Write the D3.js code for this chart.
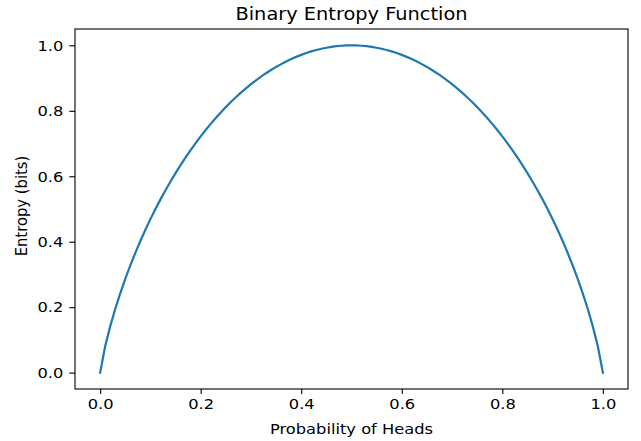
<!DOCTYPE html>
<html>
<head>
<meta charset="utf-8">
<script src="https://cdn.jsdelivr.net/npm/d3@7"></script>
<style>
  body { margin: 0; background: #fff; }
  text { font-family: "DejaVu Sans", sans-serif; fill: #000; }
</style>
</head>
<body>
<div id="chart"></div>
<script>
// probability of heads (x) and entropy in bits (y)
const probs = [
  0.00, 0.01, 0.02, 0.03, 0.04, 0.05, 0.06, 0.07, 0.08, 0.09,
  0.10, 0.11, 0.12, 0.13, 0.14, 0.15, 0.16, 0.17, 0.18, 0.19,
  0.20, 0.21, 0.22, 0.23, 0.24, 0.25, 0.26, 0.27, 0.28, 0.29,
  0.30, 0.31, 0.32, 0.33, 0.34, 0.35, 0.36, 0.37, 0.38, 0.39,
  0.40, 0.41, 0.42, 0.43, 0.44, 0.45, 0.46, 0.47, 0.48, 0.49,
  0.50, 0.51, 0.52, 0.53, 0.54, 0.55, 0.56, 0.57, 0.58, 0.59,
  0.60, 0.61, 0.62, 0.63, 0.64, 0.65, 0.66, 0.67, 0.68, 0.69,
  0.70, 0.71, 0.72, 0.73, 0.74, 0.75, 0.76, 0.77, 0.78, 0.79,
  0.80, 0.81, 0.82, 0.83, 0.84, 0.85, 0.86, 0.87, 0.88, 0.89,
  0.90, 0.91, 0.92, 0.93, 0.94, 0.95, 0.96, 0.97, 0.98, 0.99,
  1.00
];
const entropy = [
  0.0000, 0.0808, 0.1414, 0.1944, 0.2423, 0.2864, 0.3274, 0.3659, 0.4022, 0.4365,
  0.4690, 0.4999, 0.5294, 0.5574, 0.5842, 0.6098, 0.6343, 0.6577, 0.6801, 0.7015,
  0.7219, 0.7415, 0.7602, 0.7780, 0.7950, 0.8113, 0.8267, 0.8415, 0.8555, 0.8687,
  0.8813, 0.8932, 0.9044, 0.9149, 0.9248, 0.9341, 0.9427, 0.9507, 0.9580, 0.9648,
  0.9710, 0.9765, 0.9815, 0.9858, 0.9896, 0.9928, 0.9954, 0.9974, 0.9988, 0.9997,
  1.0000, 0.9997, 0.9988, 0.9974, 0.9954, 0.9928, 0.9896, 0.9858, 0.9815, 0.9765,
  0.9710, 0.9648, 0.9580, 0.9507, 0.9427, 0.9341, 0.9248, 0.9149, 0.9044, 0.8932,
  0.8813, 0.8687, 0.8555, 0.8415, 0.8267, 0.8113, 0.7950, 0.7780, 0.7602, 0.7415,
  0.7219, 0.7015, 0.6801, 0.6577, 0.6343, 0.6098, 0.5842, 0.5574, 0.5294, 0.4999,
  0.4690, 0.4365, 0.4022, 0.3659, 0.3274, 0.2864, 0.2423, 0.1944, 0.1414, 0.0808,
  0.0000
];
const xTicks = [0.0, 0.2, 0.4, 0.6, 0.8, 1.0];
const yTicks = [0.0, 0.2, 0.4, 0.6, 0.8, 1.0];

const width = 641, height = 441;
const margin = {top: 29, right: 13, bottom: 52, left: 75};
const iw = width - margin.left - margin.right;
const ih = height - margin.top - margin.bottom;
// the reference text is a bit wider than it is tall
const sx = 1.1;

const svg = d3.select('#chart').append('svg')
    .attr('width', width).attr('height', height);

const g = svg.append('g')
    .attr('transform', `translate(${margin.left},${margin.top})`);

// matplotlib style 5% padding on both axes
const x = d3.scaleLinear().domain([-0.05, 1.05]).range([0, iw]);
const y = d3.scaleLinear().domain([-0.05, 1.05]).range([ih, 0]);

const xAxis = g.append('g')
    .attr('transform', `translate(0,${ih})`)
    .call(d3.axisBottom(x).tickValues(xTicks).tickFormat(d3.format('.1f'))
        .tickSize(4.9).tickPadding(4.8).tickSizeOuter(0));
const yAxis = g.append('g')
    .call(d3.axisLeft(y).tickValues(yTicks).tickFormat(d3.format('.1f'))
        .tickSize(5.7).tickPadding(5.7).tickSizeOuter(0));

[xAxis, yAxis].forEach(a => {
    a.select('.domain').remove();
    a.selectAll('line').attr('stroke', '#000').attr('stroke-width', 1.1);
    a.selectAll('text').style('font-size', '14.8px').attr('fill', '#000');
});
xAxis.selectAll('text').attr('transform', `scale(${sx},1)`);
yAxis.selectAll('text').attr('x', 0).attr('transform', `translate(-11.6,0) scale(${sx},1)`);

// frame
g.append('rect')
    .attr('x', 0).attr('y', 0).attr('width', iw).attr('height', ih)
    .attr('fill', 'none').attr('stroke', '#000').attr('stroke-width', 1.1);

const line = d3.line()
    .x((d, i) => x(probs[i]))
    .y(d => y(d));

g.append('path')
    .datum(entropy)
    .attr('d', line)
    .attr('fill', 'none')
    .attr('stroke', '#1f77b4')
    .attr('stroke-width', 2.2)
    .attr('stroke-linecap', 'square');

svg.append('text')
    .attr('transform', `translate(${margin.left + iw / 2},20) scale(${sx},1)`)
    .attr('text-anchor', 'middle')
    .style('font-size', '17.6px')
    .text('Binary Entropy Function');

svg.append('text')
    .attr('transform', `translate(${margin.left + iw / 2},434) scale(${sx},1)`)
    .attr('text-anchor', 'middle')
    .style('font-size', '14.8px')
    .text('Probability of Heads');

svg.append('text')
    .attr('transform', `translate(27,206) scale(${sx},1) rotate(-90)`)
    .attr('text-anchor', 'middle')
    .style('font-size', '14.8px')
    .text('Entropy (bits)');
</script>
</body>
</html>
